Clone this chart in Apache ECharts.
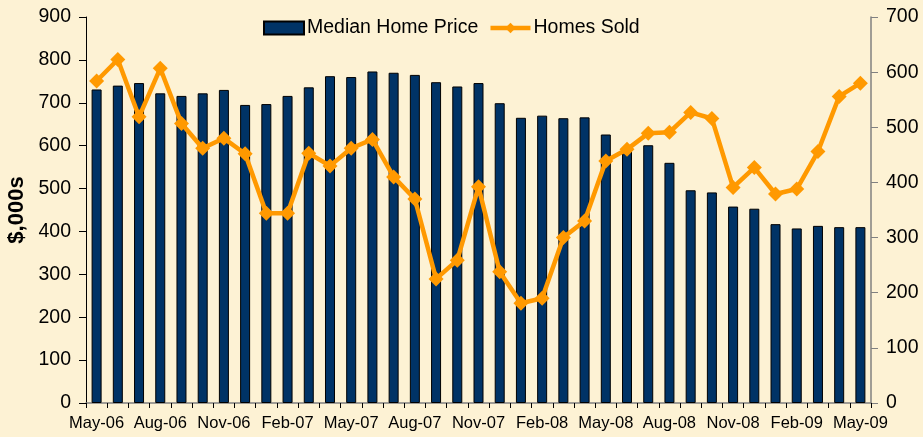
<!DOCTYPE html>
<html>
<head>
<meta charset="utf-8">
<script src="https://cdn.jsdelivr.net/npm/echarts@6/dist/echarts.min.js"></script>
<style>
  html, body { margin: 0; padding: 0; background: #fdf2d4; }
  #chart { width: 923px; height: 437px; }
</style>
</head>
<body>
<div id="chart"></div>
<script>
var months = ['May-06','Jun-06','Jul-06','Aug-06','Sep-06','Oct-06','Nov-06','Dec-06',
  'Jan-07','Feb-07','Mar-07','Apr-07','May-07','Jun-07','Jul-07','Aug-07','Sep-07','Oct-07',
  'Nov-07','Dec-07','Jan-08','Feb-08','Mar-08','Apr-08','May-08','Jun-08','Jul-08','Aug-08',
  'Sep-08','Oct-08','Nov-08','Dec-08','Jan-09','Feb-09','Mar-09','Apr-09','May-09'];

// median price, $,000s (left axis)
var medianPrice = [731, 740, 746, 722, 716, 722, 730, 695,
  697, 716, 736, 762, 760, 773, 770, 765, 748, 738,
  746, 699, 665, 670, 664, 666, 626, 590, 601, 560,
  496, 491, 458, 453, 417, 407, 413, 410, 410];

// homes sold (right axis)
var homesSold = [584, 623, 519, 607, 507, 462, 480, 452,
  344, 344, 453, 430, 462, 478, 410, 370, 225, 259,
  392, 238, 181, 190, 300, 330, 439, 460, 489, 491,
  527, 516, 391, 427, 379, 388, 456, 556, 580];

var font = '"Liberation Sans", Arial, sans-serif';

var chart = echarts.init(document.getElementById('chart'));
chart.setOption({
  backgroundColor: '#fdf2d4',
  animation: false,
  textStyle: { fontFamily: font, color: '#000' },
  grid: { left: 86, right: 52, top: 17, bottom: 34, outerBoundsMode: 'none', containLabel: false },
  legend: {
    left: 258, top: 13,
    itemWidth: 40, itemHeight: 13, itemGap: 10,
    textStyle: { fontSize: 19.5, fontFamily: font, color: '#000', padding: [0, 0, 0, -2] },
    data: [
      { name: 'Median Home Price', icon: 'rect' },
      { name: 'Homes Sold', lineStyle: { width: 4.5 } }
    ]
  },
  xAxis: {
    type: 'category',
    data: months,
    boundaryGap: true,
    axisLine: { lineStyle: { color: '#808080', width: 1.5 } },
    axisTick: { show: true, interval: 0, length: 5, lineStyle: { color: '#000' } },
    axisLabel: { interval: 2, fontSize: 16.5, color: '#000', margin: 12 }
  },
  yAxis: [{
    type: 'value',
    min: 0, max: 900, interval: 100,
    name: '$,000s',
    nameLocation: 'middle',
    nameGap: 58,
    nameTextStyle: { fontSize: 22, fontWeight: 'bold', color: '#000' },
    axisLine: { show: true, lineStyle: { color: '#000' } },
    axisTick: { show: true, length: 7, lineStyle: { color: '#000' } },
    axisLabel: { fontSize: 19.5, color: '#000', margin: 15 },
    splitLine: { show: false }
  }, {
    type: 'value',
    min: 0, max: 700, interval: 100,
    position: 'right',
    axisLine: { show: true, lineStyle: { color: '#808080', width: 1.5 } },
    axisTick: { show: true, length: 7, lineStyle: { color: '#808080' } },
    axisLabel: { fontSize: 19.5, color: '#000', margin: 15 },
    splitLine: { show: false }
  }],
  series: [{
    name: 'Median Home Price',
    type: 'bar',
    data: medianPrice,
    barWidth: 10,
    itemStyle: { color: '#003366', borderColor: '#000', borderWidth: 1 }
  }, {
    name: 'Homes Sold',
    type: 'line',
    yAxisIndex: 1,
    data: homesSold,
    showSymbol: true,
    showAllSymbol: true,
    symbol: 'diamond',
    symbolSize: 15,
    lineStyle: { color: '#ff9900', width: 4.5 },
    itemStyle: { color: '#ff9900' }
  }]
});
</script>
</body>
</html>
